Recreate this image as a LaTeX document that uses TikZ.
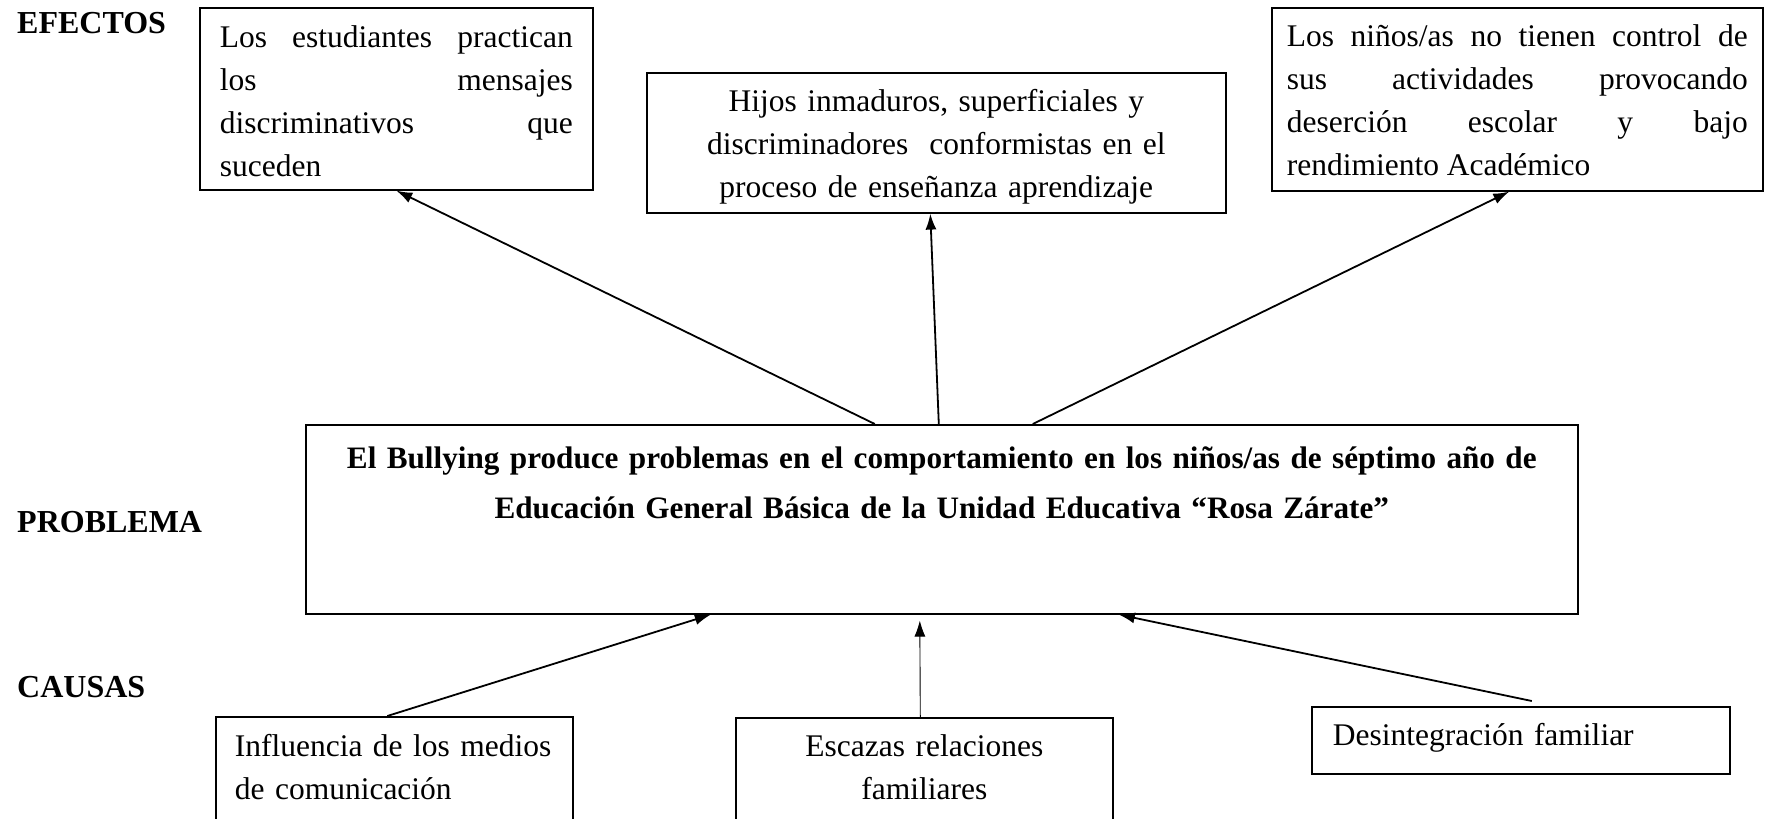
\documentclass[tikz,border=0pt]{standalone}
\usepackage{fontspec}
\setmainfont{Liberation Serif}
\usetikzlibrary{positioning, arrows.meta}
\hyphenpenalty=10000
\tolerance=10000

\begin{document}
\begin{tikzpicture}[x=1pt, y=-1pt,
    caja/.style={draw, line width=1.6pt, inner xsep=20pt, inner ysep=0pt, anchor=north west, font=\fontsize{31.5}{43}\selectfont},
    titulo/.style={anchor=base west, inner sep=0pt, font=\fontsize{32}{38}\selectfont\bfseries},
    flecha/.style={line width=1.8pt, -{Latex[length=16pt,width=11pt]}}]
    \useasboundingbox (0,0) rectangle (1765,819);
    % titulos de la izquierda
    \node[titulo] (tef) at (17,33) {EFECTOS};
    \node[titulo] (tpr) at (17,532) {PROBLEMA};
    \node[titulo] (tca) at (17,697) {CAUSAS};

    % efectos
    \node[caja, text width=353pt, align=justify, text height=40pt, text depth=142pt] (ef1) at (199,7) {Los estudiantes practican\linebreak los mensajes\linebreak discriminativos que\linebreak suceden};
    \node[caja, text width=539pt, align=center, text height=39pt, text depth=101pt] (ef2) at (646,72) {Hijos inmaduros, superficiales y\\discriminadores\ \ conformistas en el\\proceso de enseñanza aprendizaje};
    \node[caja, text width=461pt, inner xsep=15pt, align=justify, text height=39pt, text depth=144pt] (ef3) at (1271,7) {Los niños/as no tienen control de\linebreak sus actividades provocando\linebreak deserción escolar y bajo\linebreak rendimiento Académico};

    % problema
    \node[caja, text width=1232pt, align=center, text height=44pt, text depth=145pt, font=\fontsize{31.2}{50}\selectfont\bfseries] (prob) at (305,424) {El Bullying produce problemas en el comportamiento en los niños/as de séptimo año de\\Educación General Básica de la Unidad Educativa “Rosa Zárate”};

    % causas
    \node[caja, text width=319pt, inner xsep=19pt, align=left, text height=40pt, text depth=124pt] (ca1) at (215,716) {Influencia de los medios\\de comunicación};
    \node[caja, text width=337pt, align=center, text height=39pt, text depth=123pt] (ca2) at (735,717) {Escazas relaciones\\familiares};
    \node[caja, text width=376pt, inner xsep=21pt, align=left, text height=39pt, text depth=28pt] (ca3) at (1311,706) {Desintegración familiar};

    \draw[flecha] ([xshift=-67pt]prob.north) to (ef1.south);
    \draw[flecha] ([xshift=-3pt]prob.north) to ([xshift=-6pt]ef2.south);
    \draw[flecha] ([xshift=91pt]prob.north) to ([xshift=-8pt]ef3.south);

    \draw[flecha] ([xshift=-7pt]ca1.north) to ([xshift=-231pt]prob.south);
    \draw[flecha, line width=0.9pt] ([xshift=-4pt]ca2.north) to ([xshift=-22pt,yshift=-6pt]prob.south);
    \draw[flecha] ([xshift=11pt,yshift=5pt]ca3.north) to ([xshift=177pt]prob.south);
\end{tikzpicture}
\end{document}
